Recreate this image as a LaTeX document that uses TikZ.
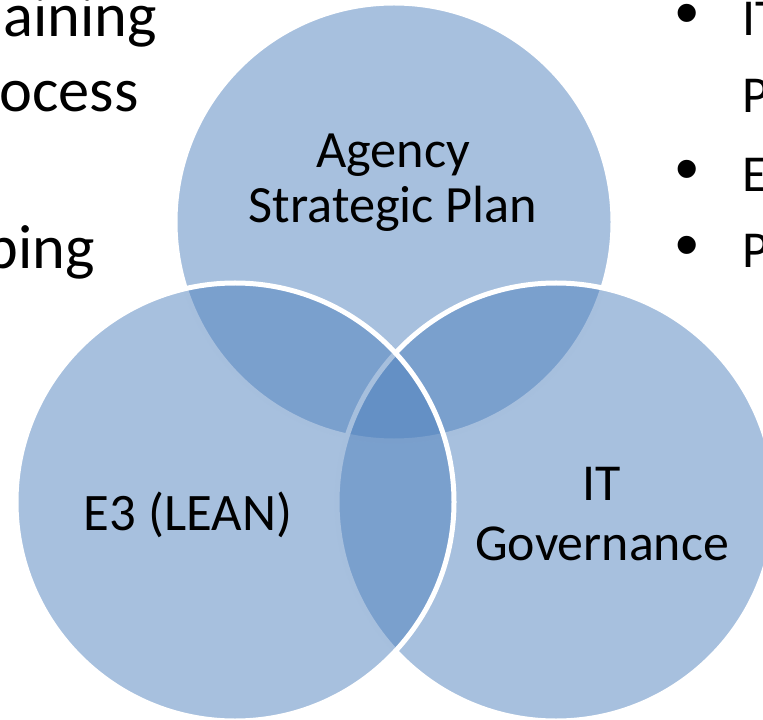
\documentclass[tikz,border=0pt]{standalone}
\usepackage{fontspec}
\setmainfont{Carlito}
\newfontfamily\bulletfont{Liberation Sans}
\usetikzlibrary{positioning}
\definecolor{vennblue}{HTML}{4F81BD}
\tikzset{
  venn/.style={circle,fill=vennblue,fill opacity=0.5,draw=white,line width=1mm,
    minimum size=87.6mm,inner sep=0pt},
  vlabel/.style={align=center,inner sep=0pt,text=black},
  lside/.style={font=\fontsize{35.5}{36}\selectfont,inner sep=0pt},
  rside/.style={font=\fontsize{29.5}{30}\selectfont,inner sep=0pt},
  bul/.style={font=\bulletfont\fontsize{38}{38}\selectfont,inner sep=0pt},
}

\begin{document}
\begin{tikzpicture}[x=0.2mm,y=-0.2mm]
  \useasboundingbox (0,0) rectangle (763,720);
  % ---- the three circles (plan first, E3 last) ----
  \node[venn] (plan) at (394,222) {};
  \node[venn] (gov)  at (556,502) {};
  \node[venn] (lean) at (235,502) {};
  % ---- circle labels (base = last line) ----
  \node[vlabel,anchor=base,font=\fontsize{29.8}{31.3}\selectfont] (plantxt) at (393,223)
    {Agency\\Strategic Plan};
  \node[vlabel,anchor=base,font=\fontsize{30}{30}\selectfont] (leantxt) at (188,530)
    {E3 (LEAN)};
  \node[vlabel,anchor=base,font=\fontsize{29.5}{33.6}\selectfont] (govtxt) at (602,560)
    {IT\\Governance};
  % ---- list text cut by the left edge ----
  \node[lside,anchor=base east] (l1) at (157,37)  {aining};
  \node[lside,anchor=base east] (l2) at (139,112) {ocess};
  \node[lside,anchor=base east] (l3) at (95,268)  {ping};
  % ---- bullet list cut by the right edge ----
  \node[bul,anchor=base] (b1) at (687,36)  {•};
  \node[bul,anchor=base] (b2) at (687,192) {•};
  \node[bul,anchor=base] (b3) at (687,267) {•};
  \node[rside,anchor=base west] (r1) at (742,36)  {IT};
  \node[rside,anchor=base west] (r2) at (742,113) {P};
  \node[rside,anchor=base west] (r3) at (742,192) {E};
  \node[rside,anchor=base west] (r4) at (742,267) {P};
\end{tikzpicture}
\end{document}
